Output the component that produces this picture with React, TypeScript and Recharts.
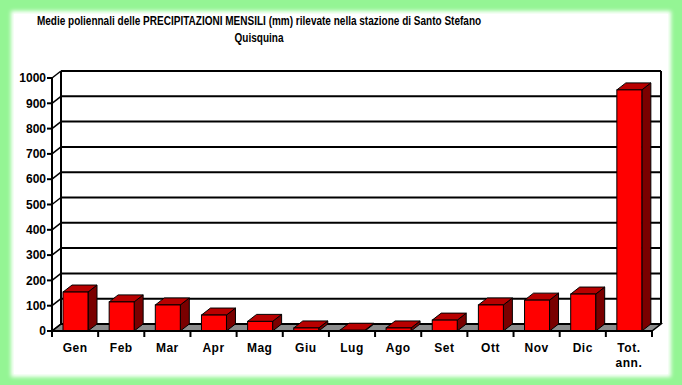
import React from "react";
import { BarChart, Bar, XAxis, YAxis, CartesianGrid } from "recharts";

// medie mensili (mm)
const months = ["Gen", "Feb", "Mar", "Apr", "Mag", "Giu", "Lug", "Ago", "Set", "Ott", "Nov", "Dic", "Tot. ann."];
const rainfall = [154, 115, 103, 63, 38, 12, 3, 12, 43, 103, 122, 146, 953];
const yTicks = [0, 100, 200, 300, 400, 500, 600, 700, 800, 900, 1000];

const data = months.map((m, i) => ({ name: m, value: rainfall[i] }));

const W = 682;
const H = 385;
const X_AXIS_H = 30;
const Y_AXIS_W = 40;
const margin = { top: 78, right: 30, bottom: 54 - X_AXIS_H, left: 12 };
const PLOT_LEFT = margin.left + Y_AXIS_W;
const PLOT_RIGHT = W - margin.right;
const PLOT_TOP = margin.top;
const PLOT_BOTTOM = H - margin.bottom - X_AXIS_H;
const BAND = (PLOT_RIGHT - PLOT_LEFT) / months.length;

// profondita' 3D
const DX = 9;
const DY = 7;

const axisFont = { fontFamily: "'Liberation Sans', Arial, sans-serif", fontSize: 12, fontWeight: 700, fill: "#000" };

function Bar3D(props: any) {
  const { x, y, width, height } = props;
  if (x == null || height == null) return null;
  const top = `${x},${y} ${x + DX},${y - DY} ${x + width + DX},${y - DY} ${x + width},${y}`;
  const side = `${x + width},${y} ${x + width + DX},${y - DY} ${x + width + DX},${y + height - DY} ${x + width},${y + height}`;
  return (
    <g>
      <polygon points={side} fill="#7a0000" stroke="#000" strokeWidth={1} />
      <polygon points={top} fill="#b80000" stroke="#000" strokeWidth={1} />
      <rect x={x} y={y} width={width} height={height} fill="#ff0000" stroke="#000" strokeWidth={1} />
    </g>
  );
}

function WallLine(props: any) {
  const { x1, y1, x2 } = props;
  const isBottom = Math.abs(y1 - PLOT_BOTTOM) < 1;
  const isTop = Math.abs(y1 - PLOT_TOP) < 1;
  return (
    <g>
      {isBottom && (
        <polygon
          points={`${x1},${y1} ${x2},${y1} ${x2 + DX},${y1 - DY} ${x1 + DX},${y1 - DY}`}
          fill="#8c8c8c"
          stroke="#000"
          strokeWidth={1.5}
        />
      )}
      <line x1={x1 + DX} y1={y1 - DY} x2={x2 + DX} y2={y1 - DY} stroke="#000" strokeWidth={2} />
      <line x1={x1} y1={y1} x2={x1 + DX} y2={y1 - DY} stroke="#000" strokeWidth={1.5} />
      {isTop && (
        <>
          <line x1={x1 + DX} y1={y1 - DY} x2={x1 + DX} y2={PLOT_BOTTOM - DY} stroke="#000" strokeWidth={2} />
          <line x1={x2 + DX} y1={y1 - DY} x2={x2 + DX} y2={PLOT_BOTTOM - DY} stroke="#000" strokeWidth={2} />
        </>
      )}
    </g>
  );
}

function MonthTick(props: any) {
  const { x, payload, index } = props;
  const half = BAND / 2;
  const lines = String(payload.value).split(" ");
  return (
    <g>
      {index === 0 && (
        <line x1={x - half} y1={PLOT_BOTTOM} x2={x - half} y2={PLOT_BOTTOM + 6} stroke="#000" strokeWidth={2} />
      )}
      <line x1={x + half} y1={PLOT_BOTTOM} x2={x + half} y2={PLOT_BOTTOM + 6} stroke="#000" strokeWidth={2} />
      <text x={x} y={PLOT_BOTTOM + 21} textAnchor="middle" {...axisFont} letterSpacing={0.5}>
        {lines.map((l, i) => (
          <tspan key={i} x={x} dy={i === 0 ? 0 : 15}>
            {l}
          </tspan>
        ))}
      </text>
    </g>
  );
}

export default function App() {
  return (
    <div style={{ position: "absolute", left: 0, top: 0, width: W, height: H, background: "#94f594", overflow: "hidden" }}>
      <div
        style={{
          position: "absolute",
          left: 14,
          top: 14,
          width: 654,
          height: 360,
          background: "#fff",
          boxShadow: "0 0 4px 3px #fff",
        }}
      />
      <div
        style={{
          position: "absolute",
          left: 259,
          top: 12,
          transform: "translateX(-50%) scaleX(0.77)",
          whiteSpace: "nowrap",
          textAlign: "center",
          fontFamily: "'Liberation Sans', Arial, sans-serif",
          fontWeight: 700,
          fontSize: 13,
          lineHeight: "17px",
          color: "#000",
        }}
      >
        Medie poliennali delle PRECIPITAZIONI MENSILI (mm) rilevate nella stazione di Santo Stefano
        <br />
        Quisquina
      </div>
      <div style={{ position: "absolute", left: 0, top: 0 }}>
        <BarChart width={W} height={H} data={data} margin={margin} barSize={25}>
          <CartesianGrid vertical={false} horizontal={(p: any) => <WallLine key={p.key} {...p} />} />
          <YAxis
            width={Y_AXIS_W}
            domain={[0, 1000]}
            ticks={yTicks}
            interval={0}
            tickSize={5}
            tickMargin={1}
            axisLine={{ stroke: "#000", strokeWidth: 2 }}
            tickLine={{ stroke: "#000", strokeWidth: 2 }}
            tick={axisFont}
          />
          <XAxis
            dataKey="name"
            height={X_AXIS_H}
            interval={0}
            tickLine={false}
            axisLine={{ stroke: "#000", strokeWidth: 2 }}
            tick={<MonthTick />}
          />
          <Bar dataKey="value" shape={<Bar3D />} isAnimationActive={false} />
        </BarChart>
      </div>
    </div>
  );
}
